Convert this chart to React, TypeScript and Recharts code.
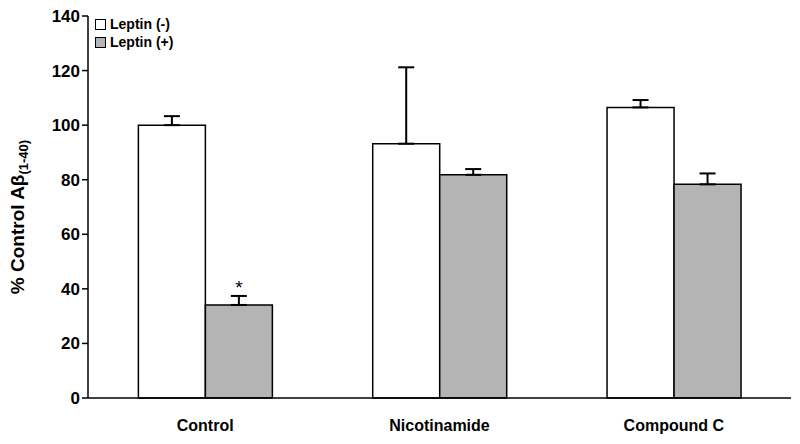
import React from 'react';
import { BarChart, Bar, XAxis, YAxis, ErrorBar, LabelList } from 'recharts';

const categories = ['Control', 'Nicotinamide', 'Compound C'];
const leptinMinus = [100, 93.2, 106.5];
const leptinMinusErr = [3.3, 28.0, 2.7];
const leptinPlus = [34.1, 81.8, 78.3];
const leptinPlusErr = [3.3, 2.1, 4.0];
const significance = ['*', '', ''];
const yTicks = [0, 20, 40, 60, 80, 100, 120, 140];
const legendLabels = ['Leptin (-)', 'Leptin (+)'];
const seriesFills = ['#ffffff', '#b4b4b4'];

const data = categories.map((c, i) => ({
  name: c,
  minus: leptinMinus[i],
  minusErr: [0, leptinMinusErr[i]],
  plus: leptinPlus[i],
  plusErr: [0, leptinPlusErr[i]],
  sig: significance[i],
}));

const FONT = 'Liberation Sans, Arial, sans-serif';

const YLabel = (props: any) => {
  const { viewBox } = props;
  const cx = 17;
  const cy = viewBox.y + viewBox.height / 2 + 10;
  return (
    <text
      x={cx}
      y={cy}
      transform={`rotate(-90, ${cx}, ${cy})`}
      textAnchor="middle"
      dominantBaseline="central"
      fontFamily={FONT}
      fontWeight="bold"
      fontSize={19}
      fill="#000"
    >
      % Control Aβ
      <tspan fontSize={13} dy={6}>(1-40)</tspan>
    </text>
  );
};

const StarLabel = (props: any) => {
  const { x, y, width, value } = props;
  if (!value) return null;
  return (
    <text x={x + width / 2} y={y - 11} textAnchor="middle" fontFamily={FONT} fontSize={19} fill="#000">
      {value}
    </text>
  );
};

export default function App() {
  return (
    <div style={{ position: 'absolute', left: 0, top: 0, width: 800, height: 444, background: '#fff' }}>
      <BarChart
        width={800}
        height={444}
        data={data}
        margin={{ top: 16, right: 9, left: 0, bottom: 16 }}
        barCategoryGap="21.5%"
        barGap={0}
      >
        <XAxis
          dataKey="name"
          axisLine={{ stroke: '#000', strokeWidth: 1.5 }}
          tickLine={false}
          height={30}
          tick={{ fontFamily: FONT, fontWeight: 'bold', fontSize: 16, fill: '#000' }}
          tickMargin={16}
        />
        <YAxis
          width={88}
          domain={[0, 140]}
          ticks={yTicks}
          interval={0}
          axisLine={{ stroke: '#000', strokeWidth: 1.5 }}
          tickLine={{ stroke: '#000', strokeWidth: 1.5 }}
          tickSize={6}
          tick={{ fontFamily: FONT, fontWeight: 'bold', fontSize: 17, fill: '#000' }}
          label={<YLabel />}
        />
        <Bar dataKey="minus" fill={seriesFills[0]} stroke="#000" strokeWidth={1.5} isAnimationActive={false}>
          <ErrorBar dataKey="minusErr" direction="y" width={8} stroke="#000" strokeWidth={2} />
        </Bar>
        <Bar dataKey="plus" fill={seriesFills[1]} stroke="#000" strokeWidth={1.5} isAnimationActive={false}>
          <ErrorBar dataKey="plusErr" direction="y" width={8} stroke="#000" strokeWidth={2} />
          <LabelList dataKey="sig" content={<StarLabel />} />
        </Bar>
      </BarChart>
      <div
        style={{
          position: 'absolute',
          left: 95,
          top: 15,
          fontFamily: FONT,
          fontWeight: 'bold',
          fontSize: 14,
          lineHeight: '18px',
          color: '#000',
        }}
      >
        {legendLabels.map((l, i) => (
          <div key={l} style={{ display: 'flex', alignItems: 'center' }}>
            <span
              style={{
                display: 'inline-block',
                width: 9,
                height: 9,
                border: '1.5px solid #000',
                background: seriesFills[i],
                marginRight: 4,
              }}
            />
            {l}
          </div>
        ))}
      </div>
    </div>
  );
}
